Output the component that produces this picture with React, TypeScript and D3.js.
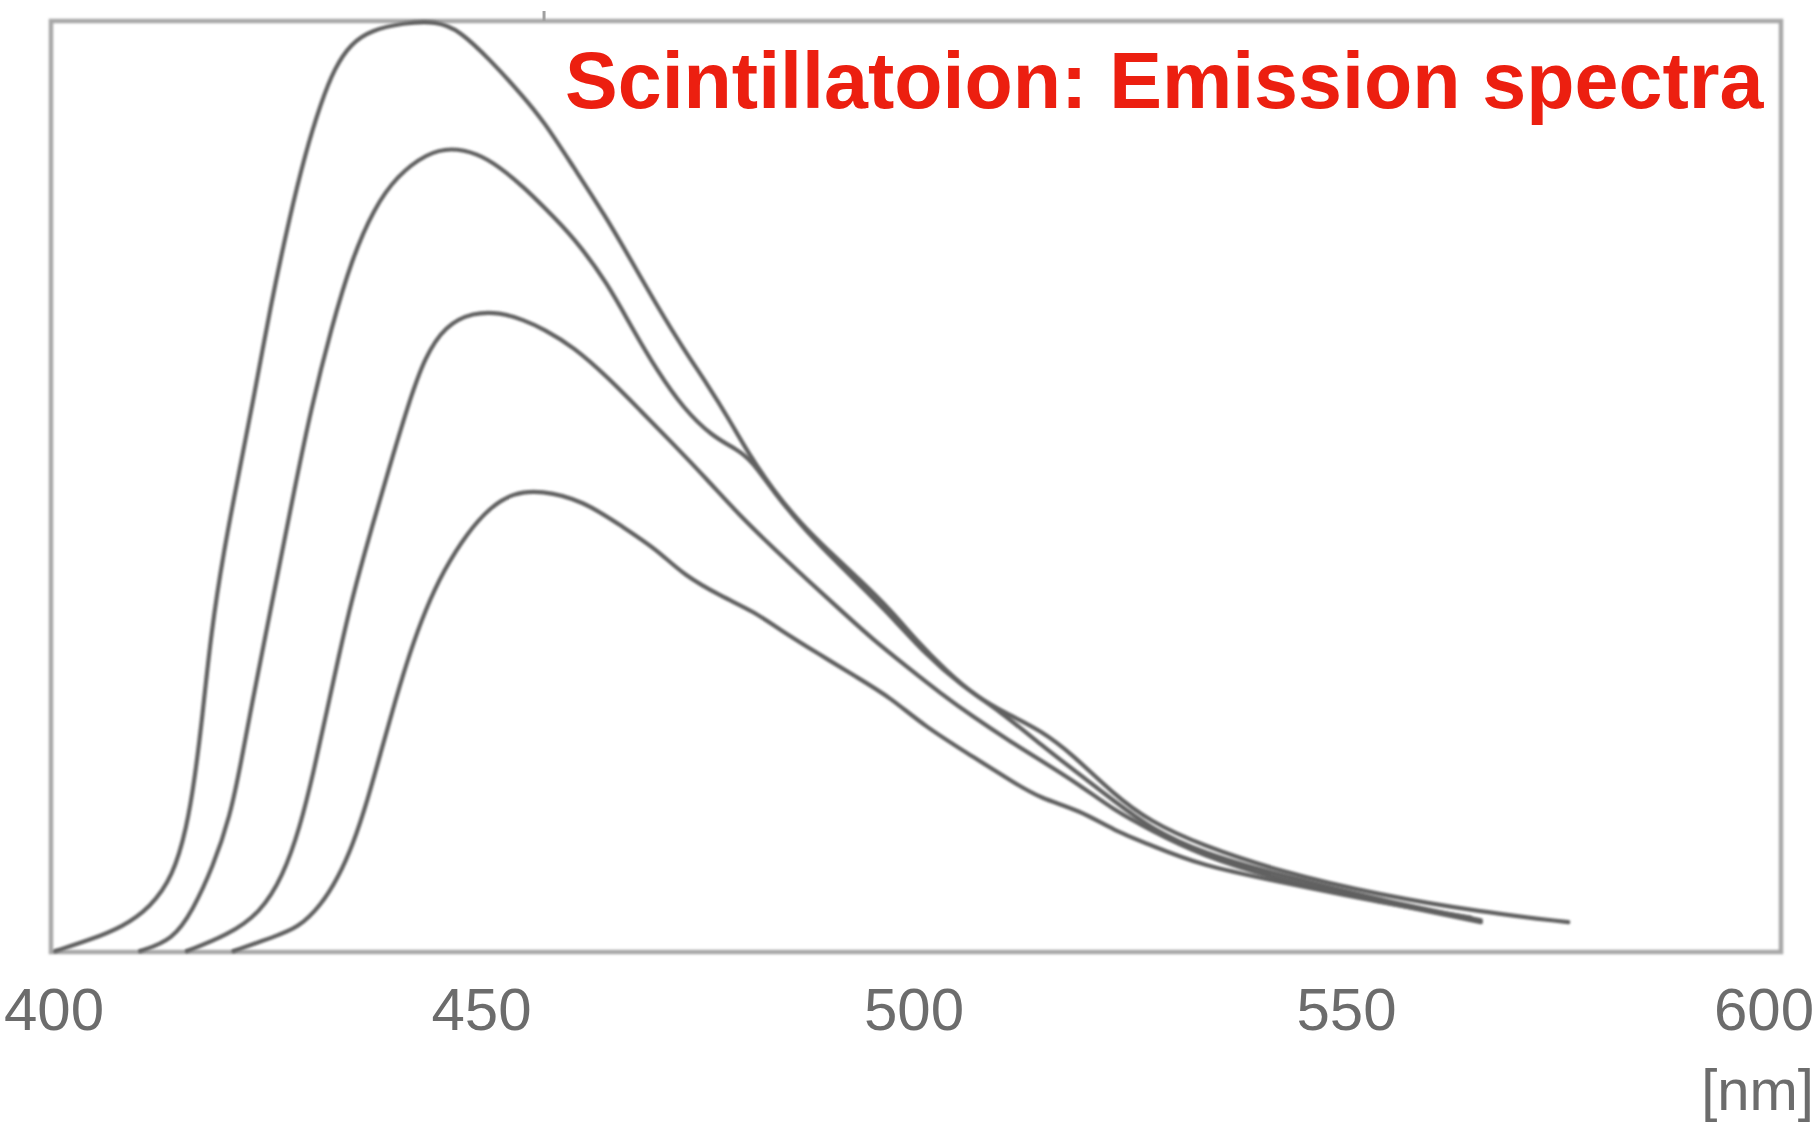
import React, { useRef, useEffect } from "react";
import * as d3 from "d3";

// emission spectra, [wavelength nm, relative intensity %]
const spectrumA: [number, number][] = [
    [400.5, 0.1], [404.5, 1.3], [408.3, 2.7], [411.5, 4.8], [414.1, 8.1], [415.7, 13.4],
    [416.6, 18.5], [417.5, 25.2], [418.5, 34.3], [420.0, 43.2], [421.5, 50.4], [423.4, 59.3],
    [425.4, 69.5], [427.5, 78.6], [429.4, 85.8], [431.2, 91.2], [432.8, 95.0], [434.7, 97.6],
    [437.0, 99.0], [440.7, 99.8], [444.6, 100.0], [447.2, 99.0], [450.8, 95.8], [454.4, 92.1],
    [457.0, 89.2], [460.4, 84.3], [464.0, 79.2], [467.3, 73.9], [470.2, 69.2], [473.1, 64.8],
    [476.0, 60.8], [478.4, 57.2], [480.6, 53.6], [483.5, 49.6], [486.6, 46.1], [490.1, 42.9],
    [493.6, 39.9], [497.1, 36.7], [500.1, 33.4], [503.5, 30.2], [507.0, 27.4], [510.9, 25.4],
    [514.4, 23.8], [518.0, 21.3], [522.9, 16.9], [527.1, 14.0], [532.9, 11.5], [542.2, 8.6],
    [553.7, 6.1], [565.3, 4.3], [575.4, 3.2]
];
const spectrumB: [number, number][] = [
    [410.3, 0.1], [414.1, 1.3], [416.4, 4.5], [418.7, 9.1], [420.7, 14.5], [422.0, 20.5],
    [423.3, 27.0], [424.8, 34.0], [426.4, 41.5], [428.1, 49.5], [430.1, 58.5], [432.4, 67.0],
    [434.8, 74.5], [437.3, 79.8], [440.0, 83.4], [443.5, 85.8], [446.2, 86.4], [449.3, 85.8],
    [451.9, 84.3], [454.6, 82.2], [457.0, 80.0], [460.4, 76.8], [464.3, 71.9], [467.3, 66.8],
    [470.1, 62.4], [473.1, 58.4], [476.4, 55.4], [479.3, 54.0], [481.0, 52.8], [483.7, 49.2],
    [487.2, 45.3], [490.7, 42.0], [494.2, 38.8], [497.6, 35.6], [501.1, 32.0], [505.1, 28.7],
    [509.8, 25.8], [514.4, 22.3], [519.0, 19.0], [522.8, 16.3], [527.1, 13.3], [532.9, 10.7],
    [542.2, 8.2], [553.7, 5.6], [565.3, 3.4]
];
const spectrumC: [number, number][] = [
    [415.7, 0.1], [420.4, 1.8], [424.2, 4.2], [426.8, 8.1], [428.8, 13.4], [430.4, 19.5],
    [431.8, 25.5], [433.2, 31.5], [434.8, 38.0], [436.9, 45.0], [439.1, 52.0], [441.3, 58.8],
    [443.2, 63.9], [445.6, 67.3], [448.8, 68.7], [451.9, 68.7], [454.6, 67.9], [457.0, 66.9],
    [460.4, 65.0], [464.3, 61.8], [468.1, 58.2], [471.9, 54.6], [475.9, 50.7], [479.7, 46.8],
    [483.5, 43.4], [487.4, 40.0], [491.3, 36.7], [495.1, 33.5], [499.0, 30.6], [502.8, 27.8],
    [506.7, 25.2], [510.6, 22.8], [514.4, 20.6], [519.0, 17.9], [522.8, 15.3], [527.1, 13.1],
    [532.9, 10.4], [542.2, 7.7], [553.7, 5.4], [565.3, 3.2]
];
const spectrumD: [number, number][] = [
    [421.1, 0.1], [425.7, 1.6], [428.6, 2.6], [431.2, 5.0], [433.2, 8.0], [434.9, 11.5],
    [436.6, 16.3], [438.2, 21.7], [439.8, 27.0], [441.5, 32.2], [443.3, 36.8], [445.4, 41.0],
    [448.1, 45.0], [450.8, 47.8], [453.4, 49.3], [456.6, 49.6], [461.5, 48.5], [466.2, 45.6],
    [470.1, 43.2], [473.1, 40.5], [477.7, 38.1], [481.2, 36.6], [484.3, 34.6], [488.6, 32.1],
    [493.2, 29.5], [497.1, 27.3], [500.9, 24.3], [506.7, 20.9], [511.3, 18.2], [514.4, 16.5],
    [519.0, 15.2], [522.8, 13.1], [527.1, 11.5], [532.9, 9.3], [542.2, 7.5], [553.7, 5.3],
    [564.1, 3.7]
];

const xTicks = [400, 450, 500, 550, 600];
const title = "Scintillatoion: Emission spectra";
const unitLabel = "[nm]";

function App() {
    const svgRef = useRef(null);
    useEffect(() => {
        const left = 51, right = 1781, top = 21, bottom = 952;

        const svg = d3.select(svgRef.current);
        svg.selectAll("*").remove();

        const x = d3.scaleLinear().domain([400, 600]).range([left, right]);
        const y = d3.scaleLinear().domain([0, 100]).range([bottom, top]);

        const defs = svg.append("defs");
        defs.append("filter").attr("id", "soft")
            .append("feGaussianBlur").attr("stdDeviation", 0.8);

        // frame
        svg.append("rect")
            .attr("x", left).attr("y", top)
            .attr("width", right - left).attr("height", bottom - top)
            .attr("fill", "none")
            .attr("stroke", "#a8a8a8")
            .attr("stroke-width", 4.5)
            .attr("filter", "url(#soft)");

        // little ticks on the bottom edge
        svg.append("g")
            .selectAll("line")
            .data(xTicks.slice(1, -1))
            .enter()
            .append("line")
            .attr("x1", d => x(d)).attr("x2", d => x(d))
            .attr("y1", bottom).attr("y2", bottom - 14)
            .attr("stroke", "#a0a0a0")
            .attr("stroke-width", 3)
            .attr("filter", "url(#soft)");
        // stray mark above the frame
        svg.append("line")
            .attr("x1", x(457)).attr("x2", x(457))
            .attr("y1", top - 10).attr("y2", top)
            .attr("stroke", "#a0a0a0").attr("stroke-width", 3);

        const line = d3.line()
            .x(d => x(d[0]))
            .y(d => y(d[1]))
            .curve(d3.curveBasis);

        svg.append("g")
            .attr("filter", "url(#soft)")
            .selectAll("path")
            .data([spectrumA, spectrumB, spectrumC, spectrumD])
            .enter()
            .append("path")
            .attr("d", d => line(d))
            .attr("fill", "none")
            .attr("stroke", "#616161")
            .attr("stroke-width", 4.2)
            .attr("stroke-linejoin", "round")
            .attr("stroke-linecap", "round");

        // tick labels, kept inside the picture
        svg.append("g")
            .selectAll("text")
            .data(xTicks)
            .enter()
            .append("text")
            .attr("x", d => Math.min(Math.max(x(d) - 2, 54), 1764))
            .attr("y", 1030)
            .attr("text-anchor", "middle")
            .attr("font-family", "'Liberation Sans', Arial, sans-serif")
            .attr("font-size", 60)
            .attr("fill", "#6c6c6c")
            .text(d => d);

        svg.append("text")
            .attr("x", 1814)
            .attr("y", 1110)
            .attr("text-anchor", "end")
            .attr("font-family", "'Liberation Sans', Arial, sans-serif")
            .attr("font-size", 58)
            .attr("fill", "#6c6c6c")
            .text(unitLabel);

        svg.append("text")
            .attr("x", 565)
            .attr("y", 108)
            .attr("font-family", "'Liberation Sans', Arial, Helvetica, sans-serif")
            .attr("font-weight", "bold")
            .attr("font-size", 79)
            .attr("fill", "#ec1f10")
            .text(title);

        return () => {
            d3.select(svgRef.current).selectAll("*").remove();
        };
    }, []);

    return (
        <svg ref={svgRef} width={1818} height={1125}
            style={{ position: "absolute", left: 0, top: 0, background: "#fff" }} />
    );
}

export default App
